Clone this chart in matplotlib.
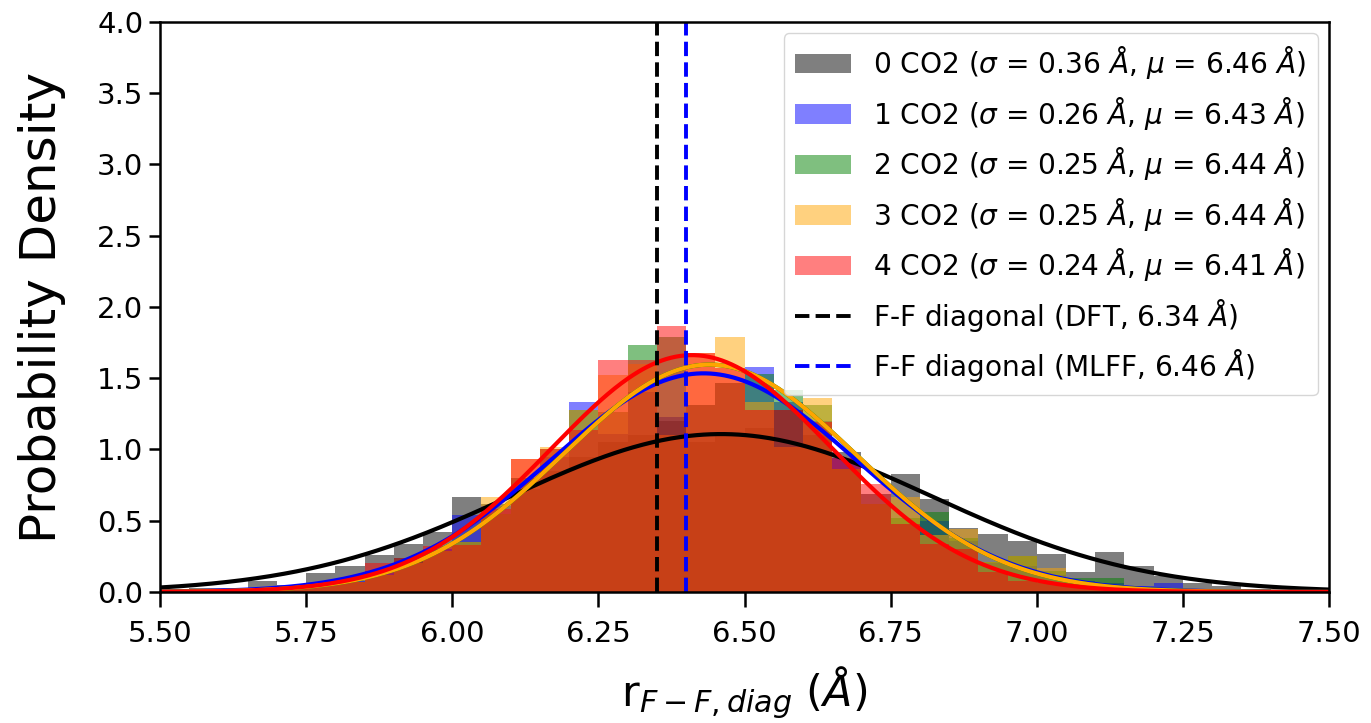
import numpy as np
import matplotlib
matplotlib.use("Agg")
from matplotlib import pyplot as plt

# histogram bin edges (width 0.05 A)
bin_edges = np.linspace(5.5, 7.5, 41)

# probability density per bin
dens_0co2 = [0.02, 0.03, 0.03, 0.08, 0.05, 0.13, 0.18, 0.26, 0.34, 0.42,
             0.67, 0.62, 0.72, 0.85, 0.95, 1.05, 1.10, 1.20, 1.05, 1.10,
             1.15, 1.28, 1.10, 0.98, 0.69, 0.83, 0.65, 0.45, 0.41, 0.36,
             0.27, 0.14, 0.28, 0.18, 0.11, 0.06, 0.04, 0.02, 0.01, 0.01]
dens_1co2 = [0.00, 0.01, 0.01, 0.02, 0.03, 0.05, 0.08, 0.15, 0.24, 0.30,
             0.54, 0.60, 0.80, 0.95, 1.33, 1.11, 1.40, 1.23, 1.31, 1.47,
             1.58, 1.33, 1.20, 0.94, 0.62, 0.48, 0.50, 0.36, 0.20, 0.18,
             0.12, 0.08, 0.06, 0.04, 0.06, 0.02, 0.01, 0.00, 0.00, 0.00]
dens_2co2 = [0.00, 0.00, 0.01, 0.01, 0.02, 0.04, 0.07, 0.12, 0.24, 0.29,
             0.35, 0.55, 0.80, 1.00, 1.28, 1.26, 1.73, 1.79, 1.31, 1.47,
             1.53, 1.42, 1.31, 0.86, 0.62, 0.52, 0.56, 0.38, 0.21, 0.25,
             0.15, 0.10, 0.10, 0.03, 0.02, 0.01, 0.00, 0.00, 0.00, 0.00]
dens_3co2 = [0.00, 0.00, 0.01, 0.01, 0.02, 0.04, 0.07, 0.12, 0.20, 0.29,
             0.35, 0.67, 0.93, 1.02, 1.28, 1.52, 1.60, 1.10, 1.68, 1.79,
             1.33, 1.02, 1.36, 0.86, 0.62, 0.67, 0.40, 0.44, 0.21, 0.25,
             0.17, 0.07, 0.05, 0.02, 0.01, 0.01, 0.00, 0.00, 0.00, 0.00]
dens_4co2 = [0.00, 0.00, 0.01, 0.01, 0.02, 0.04, 0.07, 0.20, 0.24, 0.32,
             0.33, 0.58, 0.93, 1.00, 1.14, 1.63, 1.63, 1.87, 1.68, 1.57,
             1.28, 1.28, 1.19, 0.94, 0.76, 0.48, 0.34, 0.30, 0.14, 0.08,
             0.06, 0.04, 0.02, 0.01, 0.00, 0.00, 0.00, 0.00, 0.00, 0.00]

n_co2 = [0, 1, 2, 3, 4]
sigmas = [0.36, 0.26, 0.25, 0.25, 0.24]
mus = [6.46, 6.43, 6.44, 6.44, 6.41]
colors = ['black', 'blue', 'green', 'orange', 'red']

# F-F diagonal reference lines: drawn position, value in label
ref_pos = [6.35, 6.40]
ref_labels = ['F-F diagonal (DFT, 6.34 $\\AA$)', 'F-F diagonal (MLFF, 6.46 $\\AA$)']
ref_colors = ['black', 'blue']

all_dens = [dens_0co2, dens_1co2, dens_2co2, dens_3co2, dens_4co2]

fig = plt.figure(figsize=(13.71, 7.23), dpi=100)
ax = fig.add_axes([0.1167, 0.1812, 0.8527, 0.7884])

centers = 0.5 * (bin_edges[:-1] + bin_edges[1:])
handles = []
for n, s, m, c, d in zip(n_co2, sigmas, mus, colors, all_dens):
    lab = f'{n} CO2 ($\\sigma$ = {s:.2f} $\\AA$, $\\mu$ = {m:.2f} $\\AA$)'
    _, _, patches = ax.hist(centers, bins=bin_edges, weights=d, color=c,
                            alpha=0.5, label=lab)
    handles.append(patches[0])

# gaussian fits on top of the histograms
xs = np.linspace(5.5, 7.5, 500)
for s, m, c in zip(sigmas, mus, colors):
    ax.plot(xs, np.exp(-(xs - m) ** 2 / (2 * s ** 2)) / (s * np.sqrt(2 * np.pi)),
            color=c, lw=3)

for x, lab, c in zip(ref_pos, ref_labels, ref_colors):
    handles.append(ax.axvline(x, color=c, ls='--', lw=2.8, label=lab))

ax.set_xlim(5.5, 7.5)
ax.set_ylim(0, 4)
ax.set_xticks(np.arange(5.5, 7.51, 0.25))
ax.set_yticks(np.arange(0, 4.01, 0.5))
ax.tick_params(labelsize=21, width=1.8)
ax.tick_params(axis='x', length=11, pad=9)
ax.tick_params(axis='y', length=8, pad=4)
for sp in ax.spines.values():
    sp.set_linewidth(1.8)

ax.set_xlabel('r$_{F-F, diag}$ ($\\AA$)', fontsize=31, labelpad=12)
ax.set_ylabel('Probability Density', fontsize=36, labelpad=22)

ax.legend(handles=handles, loc='upper right', fontsize=20.2, labelspacing=0.48,
          handlelength=2.0, handletextpad=0.8, borderaxespad=0.4)

plt.savefig('out.png', dpi=100)
